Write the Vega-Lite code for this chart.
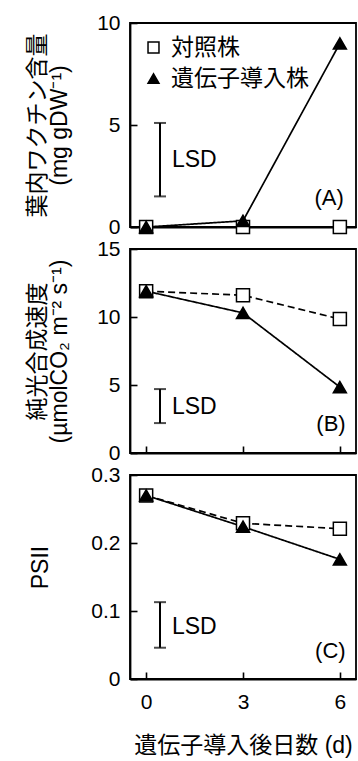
{
  "$schema": "https://vega.github.io/schema/vega-lite/v6.json",
  "padding": {"left": 25, "top": 11, "right": 0, "bottom": 0},
  "background": "white",
  "config": {
    "view": {"stroke": "black", "strokeWidth": 1.8},
    "axis": {
      "domainColor": "black", "domainWidth": 1.8, "tickColor": "black", "tickWidth": 1.6, "tickSize": -7,
      "labelFont": "Liberation Sans", "labelFontSize": 21, "labelColor": "black",
      "grid": false, "titleFont": "Liberation Sans, Noto Sans CJK JP", "titleFontSize": 23, "titleColor": "black", "titleFontWeight": "normal"
    },
    "text": {"font": "Liberation Sans", "fontSize": 22, "color": "black"}
  },
  "datasets": {
    "pts": [
      {"panel": "A", "series": "対照株", "day": 0, "value": 0},
      {"panel": "A", "series": "対照株", "day": 3, "value": 0},
      {"panel": "A", "series": "対照株", "day": 6, "value": 0},
      {"panel": "A", "series": "遺伝子導入株", "day": 0, "value": 0},
      {"panel": "A", "series": "遺伝子導入株", "day": 3, "value": 0.3},
      {"panel": "A", "series": "遺伝子導入株", "day": 6, "value": 9.0},
      {"panel": "B", "series": "対照株", "day": 0, "value": 11.9},
      {"panel": "B", "series": "対照株", "day": 3, "value": 11.6},
      {"panel": "B", "series": "対照株", "day": 6, "value": 9.85},
      {"panel": "B", "series": "遺伝子導入株", "day": 0, "value": 11.9},
      {"panel": "B", "series": "遺伝子導入株", "day": 3, "value": 10.3},
      {"panel": "B", "series": "遺伝子導入株", "day": 6, "value": 4.85},
      {"panel": "C", "series": "対照株", "day": 0, "value": 0.27},
      {"panel": "C", "series": "対照株", "day": 3, "value": 0.229},
      {"panel": "C", "series": "対照株", "day": 6, "value": 0.221},
      {"panel": "C", "series": "遺伝子導入株", "day": 0, "value": 0.27},
      {"panel": "C", "series": "遺伝子導入株", "day": 3, "value": 0.224},
      {"panel": "C", "series": "遺伝子導入株", "day": 6, "value": 0.176}
    ],
    "lsd": [
      {"panel": "A", "x": 0.43, "lo": 1.5, "hi": 5.1, "tx": 0.8, "ty": 3.3, "label": "LSD"},
      {"panel": "B", "x": 0.43, "lo": 2.2, "hi": 4.7, "tx": 0.8, "ty": 3.4, "label": "LSD"},
      {"panel": "C", "x": 0.43, "lo": 0.046, "hi": 0.113, "tx": 0.8, "ty": 0.076, "label": "LSD"}
    ],
    "tags": [
      {"panel": "A", "x": 6.12, "y": 1.4, "label": "(A)"},
      {"panel": "B", "x": 6.18, "y": 2.1, "label": "(B)"},
      {"panel": "C", "x": 6.18, "y": 0.041, "label": "(C)"}
    ]
  },
  "vconcat": [
    {
      "width": 226, "height": 204,
      "layer": [
        {
          "data": {"name": "pts"}, "transform": [{"filter": "datum.panel === 'A'"}],
          "mark": {"type": "line", "color": "black", "strokeWidth": 1.7},
          "encoding": {
            "x": {"field": "day", "type": "quantitative", "scale": {"domain": [-0.5, 6.5], "nice": false}, "axis": {"values": [0, 3, 6], "labels": false, "title": null}},
            "y": {"field": "value", "type": "quantitative", "scale": {"domain": [0, 10], "nice": false}, "axis": {"values": [0, 5, 10], "labelPadding": 17, "title": ["葉内ワクチン含量", "(mg gDW⁻¹)"], "titleColor": "black", "titleBaseline": "middle", "titleLineHeight": 22, "titleX": -93}},
            "strokeDash": {"field": "series", "type": "nominal", "scale": {"domain": ["対照株", "遺伝子導入株"], "range": [[7, 4], [1, 0]]}, "legend": null}
          }
        },
        {
          "data": {"name": "lsd"}, "transform": [{"filter": "datum.panel === 'A'"}],
          "mark": {"type": "rule", "color": "black", "strokeWidth": 2},
          "encoding": {"x": {"field": "x", "type": "quantitative"}, "y": {"field": "lo", "type": "quantitative"}, "y2": {"field": "hi"}}
        },
        {
          "data": {"name": "lsd"}, "transform": [{"filter": "datum.panel === 'A'"}],
          "mark": {"type": "tick", "orient": "horizontal", "color": "black", "size": 12, "thickness": 2},
          "encoding": {"x": {"field": "x", "type": "quantitative"}, "y": {"field": "lo", "type": "quantitative"}}
        },
        {
          "data": {"name": "lsd"}, "transform": [{"filter": "datum.panel === 'A'"}],
          "mark": {"type": "tick", "orient": "horizontal", "color": "black", "size": 12, "thickness": 2},
          "encoding": {"x": {"field": "x", "type": "quantitative"}, "y": {"field": "hi", "type": "quantitative"}}
        },
        {
          "data": {"name": "lsd"}, "transform": [{"filter": "datum.panel === 'A'"}],
          "mark": {"type": "text", "align": "left", "baseline": "middle", "fontSize": 23},
          "encoding": {"x": {"field": "tx", "type": "quantitative"}, "y": {"field": "ty", "type": "quantitative"}, "text": {"field": "label"}}
        },
        {
          "data": {"name": "tags"}, "transform": [{"filter": "datum.panel === 'A'"}],
          "mark": {"type": "text", "align": "right", "baseline": "middle"},
          "encoding": {"x": {"field": "x", "type": "quantitative"}, "y": {"field": "y", "type": "quantitative"}, "text": {"field": "label"}}
        },
        {
          "data": {"name": "pts"}, "transform": [{"filter": "datum.panel === 'A'"}],
          "mark": {"type": "point", "filled": true, "stroke": "black", "strokeWidth": 1.5, "opacity": 1, "size": 170, "clip": false},
          "encoding": {
            "x": {"field": "day", "type": "quantitative"},
            "y": {"field": "value", "type": "quantitative"},
            "shape": {"field": "series", "type": "nominal", "scale": {"domain": ["対照株", "遺伝子導入株"], "range": ["square", "triangle-up"]},
              "legend": {"orient": "none", "legendX": 12, "legendY": 13, "title": null, "labelFont": "Noto Sans CJK JP", "labelFontSize": 23, "labelColor": "black", "symbolSize": 120, "symbolStrokeWidth": 1.5, "rowPadding": 7, "labelOffset": 6,
                "encode": {"symbols": {"update": {"stroke": {"value": "black"}, "strokeWidth": {"value": 1.5}, "opacity": {"value": 1}, "fill": {"signal": "datum.value === '対照株' ? 'white' : 'black'"}}}}}},
            "fill": {"field": "series", "type": "nominal", "scale": {"domain": ["対照株", "遺伝子導入株"], "range": ["white", "black"]}, "legend": null}
          }
        }
      ]
    },
    {
      "width": 226, "height": 204,
      "layer": [
        {
          "data": {"name": "pts"}, "transform": [{"filter": "datum.panel === 'B'"}],
          "mark": {"type": "line", "color": "black", "strokeWidth": 1.7},
          "encoding": {
            "x": {"field": "day", "type": "quantitative", "scale": {"domain": [-0.5, 6.5], "nice": false}, "axis": {"values": [0, 3, 6], "labels": false, "title": null}},
            "y": {"field": "value", "type": "quantitative", "scale": {"domain": [0, 15], "nice": false}, "axis": {"values": [0, 5, 10, 15], "labelPadding": 17, "title": ["純光合成速度", "(µmolCO₂ m⁻² s⁻¹)"], "titleColor": "black", "titleBaseline": "middle", "titleLineHeight": 22, "titleX": -93}},
            "strokeDash": {"field": "series", "type": "nominal", "scale": {"domain": ["対照株", "遺伝子導入株"], "range": [[7, 4], [1, 0]]}, "legend": null}
          }
        },
        {
          "data": {"name": "lsd"}, "transform": [{"filter": "datum.panel === 'B'"}],
          "mark": {"type": "rule", "color": "black", "strokeWidth": 2},
          "encoding": {"x": {"field": "x", "type": "quantitative"}, "y": {"field": "lo", "type": "quantitative"}, "y2": {"field": "hi"}}
        },
        {
          "data": {"name": "lsd"}, "transform": [{"filter": "datum.panel === 'B'"}],
          "mark": {"type": "tick", "orient": "horizontal", "color": "black", "size": 12, "thickness": 2},
          "encoding": {"x": {"field": "x", "type": "quantitative"}, "y": {"field": "lo", "type": "quantitative"}}
        },
        {
          "data": {"name": "lsd"}, "transform": [{"filter": "datum.panel === 'B'"}],
          "mark": {"type": "tick", "orient": "horizontal", "color": "black", "size": 12, "thickness": 2},
          "encoding": {"x": {"field": "x", "type": "quantitative"}, "y": {"field": "hi", "type": "quantitative"}}
        },
        {
          "data": {"name": "lsd"}, "transform": [{"filter": "datum.panel === 'B'"}],
          "mark": {"type": "text", "align": "left", "baseline": "middle", "fontSize": 23},
          "encoding": {"x": {"field": "tx", "type": "quantitative"}, "y": {"field": "ty", "type": "quantitative"}, "text": {"field": "label"}}
        },
        {
          "data": {"name": "tags"}, "transform": [{"filter": "datum.panel === 'B'"}],
          "mark": {"type": "text", "align": "right", "baseline": "middle"},
          "encoding": {"x": {"field": "x", "type": "quantitative"}, "y": {"field": "y", "type": "quantitative"}, "text": {"field": "label"}}
        },
        {
          "data": {"name": "pts"}, "transform": [{"filter": "datum.panel === 'B'"}],
          "mark": {"type": "point", "filled": true, "stroke": "black", "strokeWidth": 1.5, "opacity": 1, "size": 170, "clip": false},
          "encoding": {
            "x": {"field": "day", "type": "quantitative"},
            "y": {"field": "value", "type": "quantitative"},
            "shape": {"field": "series", "type": "nominal", "scale": {"domain": ["対照株", "遺伝子導入株"], "range": ["square", "triangle-up"]}, "legend": null},
            "fill": {"field": "series", "type": "nominal", "scale": {"domain": ["対照株", "遺伝子導入株"], "range": ["white", "black"]}, "legend": null}
          }
        }
      ]
    },
    {
      "width": 226, "height": 204,
      "layer": [
        {
          "data": {"name": "pts"}, "transform": [{"filter": "datum.panel === 'C'"}],
          "mark": {"type": "line", "color": "black", "strokeWidth": 1.7},
          "encoding": {
            "x": {"field": "day", "type": "quantitative", "scale": {"domain": [-0.5, 6.5], "nice": false}, "axis": {"values": [0, 3, 6], "labelPadding": 19, "title": "遺伝子導入後日数 (d)", "titleColor": "black", "titlePadding": 22}},
            "y": {"field": "value", "type": "quantitative", "scale": {"domain": [0, 0.3], "nice": false}, "axis": {"values": [0, 0.1, 0.2, 0.3], "format": "~g", "labelPadding": 17, "title": "PSII", "titleColor": "black", "titleBaseline": "middle", "titleX": -90, "titleY": 92}},
            "strokeDash": {"field": "series", "type": "nominal", "scale": {"domain": ["対照株", "遺伝子導入株"], "range": [[7, 4], [1, 0]]}, "legend": null}
          }
        },
        {
          "data": {"name": "lsd"}, "transform": [{"filter": "datum.panel === 'C'"}],
          "mark": {"type": "rule", "color": "black", "strokeWidth": 2},
          "encoding": {"x": {"field": "x", "type": "quantitative"}, "y": {"field": "lo", "type": "quantitative"}, "y2": {"field": "hi"}}
        },
        {
          "data": {"name": "lsd"}, "transform": [{"filter": "datum.panel === 'C'"}],
          "mark": {"type": "tick", "orient": "horizontal", "color": "black", "size": 12, "thickness": 2},
          "encoding": {"x": {"field": "x", "type": "quantitative"}, "y": {"field": "lo", "type": "quantitative"}}
        },
        {
          "data": {"name": "lsd"}, "transform": [{"filter": "datum.panel === 'C'"}],
          "mark": {"type": "tick", "orient": "horizontal", "color": "black", "size": 12, "thickness": 2},
          "encoding": {"x": {"field": "x", "type": "quantitative"}, "y": {"field": "hi", "type": "quantitative"}}
        },
        {
          "data": {"name": "lsd"}, "transform": [{"filter": "datum.panel === 'C'"}],
          "mark": {"type": "text", "align": "left", "baseline": "middle", "fontSize": 23},
          "encoding": {"x": {"field": "tx", "type": "quantitative"}, "y": {"field": "ty", "type": "quantitative"}, "text": {"field": "label"}}
        },
        {
          "data": {"name": "tags"}, "transform": [{"filter": "datum.panel === 'C'"}],
          "mark": {"type": "text", "align": "right", "baseline": "middle"},
          "encoding": {"x": {"field": "x", "type": "quantitative"}, "y": {"field": "y", "type": "quantitative"}, "text": {"field": "label"}}
        },
        {
          "data": {"name": "pts"}, "transform": [{"filter": "datum.panel === 'C'"}],
          "mark": {"type": "point", "filled": true, "stroke": "black", "strokeWidth": 1.5, "opacity": 1, "size": 170, "clip": false},
          "encoding": {
            "x": {"field": "day", "type": "quantitative"},
            "y": {"field": "value", "type": "quantitative"},
            "shape": {"field": "series", "type": "nominal", "scale": {"domain": ["対照株", "遺伝子導入株"], "range": ["square", "triangle-up"]}, "legend": null},
            "fill": {"field": "series", "type": "nominal", "scale": {"domain": ["対照株", "遺伝子導入株"], "range": ["white", "black"]}, "legend": null}
          }
        }
      ]
    }
  ],
  "spacing": 22,
  "bounds": "flush",
  "resolve": {"legend": {"shape": "independent", "fill": "independent"}}
}
